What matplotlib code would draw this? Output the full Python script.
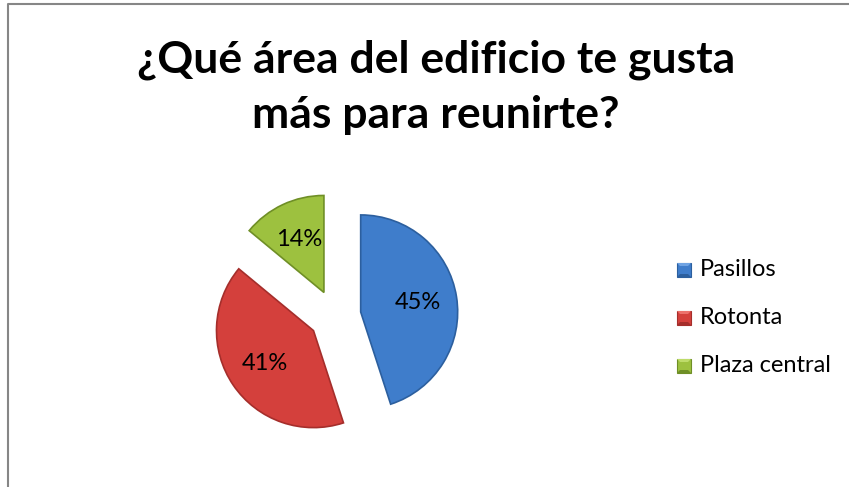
import matplotlib.pyplot as plt
from matplotlib.patches import Rectangle, Polygon

plt.rcParams['font.family'] = ['Lato', 'DejaVu Sans']

categories = ["Pasillos", "Rotonta", "Plaza central"]
values = [45, 41, 14]
colors = ["#3F7DCB", "#D4403C", "#9DC13F"]
edges = ["#2C5F9E", "#A52E2B", "#6F8F26"]
lights = ["#6FA3E3", "#EC716C", "#BEDC6A"]

W, H = 849, 487
fig = plt.figure(figsize=(W / 100, H / 100), dpi=100)
ax = fig.add_axes([0, 0, 1, 1])

# explode is in data units here (1 unit = 1 pixel)
wedges, texts, autotexts = ax.pie(
    values, colors=colors, startangle=90, counterclock=False,
    explode=[26] * 3, center=(335, H - 316), radius=97,
    autopct="%1.0f%%", pctdistance=0.6,
    wedgeprops=dict(linewidth=1.2), textprops=dict(fontsize=17, color="black"))
for w, e in zip(wedges, edges):
    w.set_edgecolor(e)

# pie() resets the limits, so set the pixel-like frame afterwards
ax.set_xlim(0, W)
ax.set_ylim(0, H)
ax.set_aspect("equal")
ax.axis("off")

# chart frame (only top and left are visible in the original)
ax.plot([8, 8, W], [0, H - 4, H - 4], color="#868686", lw=1.5)

ax.text(436, H - 72, "¿Qué área del edificio te gusta", ha="center", va="baseline",
        fontsize=32, fontweight="bold")
ax.text(436, H - 128, "más para reunirte?", ha="center", va="baseline",
        fontsize=32, fontweight="bold")

ys = [270, 318, 366]
s = 14
for lab, c, e, li, y in zip(categories, colors, edges, lights, ys):
    x0, y0 = 677, H - y - s / 2
    ax.add_patch(Rectangle((x0, y0), s, s, facecolor=c, edgecolor=e, lw=0.8))
    # bevel: lighter top, darker bottom
    ax.add_patch(Polygon([(x0, y0 + s), (x0 + s, y0 + s), (x0 + s - 3, y0 + s - 3),
                          (x0 + 3, y0 + s - 3)], closed=True, facecolor=li, lw=0))
    ax.add_patch(Polygon([(x0, y0), (x0 + s, y0), (x0 + s - 3, y0 + 3),
                          (x0 + 3, y0 + 3)], closed=True, facecolor=e, lw=0))
    ax.text(700, H - y, lab, ha="left", va="center", fontsize=17)

fig.savefig("out.png", dpi=100)
